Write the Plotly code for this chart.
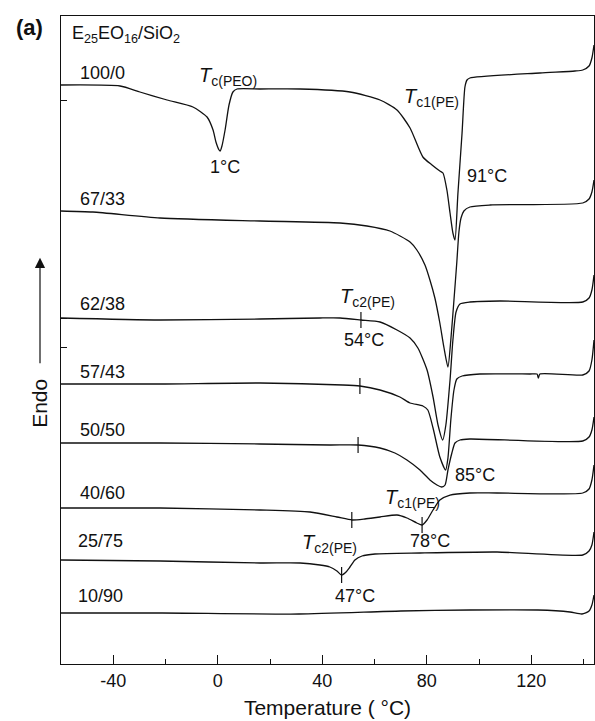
import numpy as np
import plotly.graph_objects as go

# ---------------- data (temperature in °C, heat flow in arbitrary units, endo up) ----------------
samples = ["100/0", "67/33", "62/38", "57/43", "50/50", "40/60", "25/75", "10/90"]

T_100_0 = [-60, -37.4, -29.8, -19.4, -9.5, -4.1, -1.8, -0.7, 0.5, 0.9, 1.6, 2.8, 4.3, 5.8, 7.4, 16.2, 31.5,
           50.6, 62.1, 68.6, 73.6, 78.5, 82.0, 85.0, 86.2, 87.7, 88.9, 90.0, 90.8, 91.9, 93.5, 94.6, 95.4,
           96.5, 123.3, 136.7, 139.7, 142.1, 143.2, 144.0]
H_100_0 = [579, 578, 572, 564, 557, 547, 534, 522, 514, 513, 518, 534, 559, 572, 575, 575, 575,
           572, 564, 554, 536, 507, 499, 493, 491, 474, 451, 431, 424, 470, 531, 577, 584,
           586, 591, 593, 594, 598, 606, 619]

T_67_33 = [-60, -47.8, -22.1, 16.2, 46.8, 57.1, 65.9, 73.6, 76.2, 79.3, 81.2, 83.1, 85.0, 86.6, 88.1,
           89.2, 90.4, 91.5, 92.3, 93.1, 94.2, 96.5, 104.2, 139.7, 142.1, 143.2, 144.0]
H_67_33 = [453, 452, 446, 443, 441, 438, 433, 422, 414, 399, 384, 366, 341, 316, 297,
           324, 364, 402, 432, 446, 453, 457, 459, 461, 465, 472, 484]

T_62_38 = [-60, -22.1, 16.2, 39.1, 46.8, 54.8, 62.1, 68.6, 73.6, 76.6, 80.1, 82.4, 84.3, 86.1,
           87.3, 88.9, 90.0, 91.2, 92.7, 96.5, 108.0, 139.7, 142.1, 143.2, 144.0]
H_62_38 = [346, 344, 345, 346, 346, 344, 342, 334, 326, 316, 294, 267, 239, 224,
           239, 284, 324, 352, 360, 362, 363, 362, 366, 374, 389]

T_57_43 = [-60, -22.1, 16.2, 47.9, 54.4, 62.1, 69.7, 73.6, 78.5, 80.4, 82.4, 85.0, 87.2,
           88.1, 89.2, 90.4, 91.5, 93.5, 100.3, 119.5, 122.2, 122.7, 123.3, 139.7, 142.1, 143.2, 144.0]
H_57_43 = [280, 280, 281, 279, 278, 274, 267, 261, 258, 254, 236, 207, 194,
           206, 244, 274, 285, 288, 290, 290, 290, 286, 290, 289, 293, 304, 324]

T_50_50 = [-60, -22.1, 16.2, 42.9, 53.7, 62.1, 67.8, 72.4, 77.4, 81.2, 83.9, 85.7, 87.0, 88.1,
           89.6, 90.8, 92.7, 96.5, 139.7, 142.1, 143.2, 144.0]
H_50_50 = [221, 221, 220, 219, 219, 216, 211, 204, 194, 184, 179, 177, 179, 194,
           211, 221, 224, 225, 223, 227, 234, 247]

T_40_60 = [-60, -22.1, 16.2, 35.3, 45.6, 51.4, 56.3, 62.1, 68.6, 72.4, 76.2, 78.2, 80.1, 82.4,
           85.0, 88.9, 96.5, 106.9, 139.7, 142.1, 143.2, 144.0]
H_40_60 = [156, 156, 154, 152, 147, 144, 145, 147, 149, 146, 141, 139, 144, 154,
           164, 169, 171, 171, 171, 175, 184, 199]

T_25_75 = [-60, -22.1, 16.2, 31.5, 39.1, 42.9, 45.6, 47.4, 49.1, 50.6, 52.5, 55.2, 60.2, 77.4,
           106.9, 139.7, 142.1, 143.2, 144.0]
H_25_75 = [104, 103, 101, 101, 99, 97, 93, 89, 92, 97, 104, 108, 110, 111,
           112, 109, 113, 119, 132]

T_10_90 = [-60, -21.3, 31.1, 70.1, 96.5, 122.5, 134.8, 139.4, 142.1, 143.2, 144.0]
H_10_90 = [51, 51, 50, 53, 54, 54, 52, 50, 53, 59, 69]

curves_T = [T_100_0, T_67_33, T_62_38, T_57_43, T_50_50, T_40_60, T_25_75, T_10_90]
curves_H = [H_100_0, H_67_33, H_62_38, H_57_43, H_50_50, H_40_60, H_25_75, H_10_90]

# transition marks: (curve index, temperature °C)
mark_curve = [2, 3, 4, 5, 5, 6]
mark_T = [54.8, 54.4, 53.7, 51.3, 78.2, 47.4]

x_ticks = [-40, 0, 40, 80, 120]
x_ticktext = ["-40", "0", "40", "80", "120"]
x_minor = [-20, 20, 60, 100, 140]
y_marks = [564, 346, 317]

FONT = "Liberation Sans, Arial, sans-serif"
INK = "#111111"

fig = go.Figure()
for name, t, h in zip(samples, curves_T, curves_H):
    fig.add_trace(go.Scatter(x=t, y=h, mode="lines", name=name,
                             line=dict(color=INK, width=1.3, shape="spline", smoothing=0.6),
                             showlegend=False, hoverinfo="skip"))

# short vertical marks on the curves
mx, my = [], []
for ci, tm in zip(mark_curve, mark_T):
    hv = float(np.interp(tm, curves_T[ci], curves_H[ci]))
    mx += [tm, tm, None]
    my += [hv - 8, hv + 8, None]
fig.add_trace(go.Scatter(x=mx, y=my, mode="lines", line=dict(color=INK, width=1.2),
                         showlegend=False, hoverinfo="skip"))

ann = []
def label(text, x, y, size=18, xanchor="left", **kw):
    ann.append(dict(text=text, x=x, y=y, xref="x", yref="y", showarrow=False,
                    xanchor=xanchor, yanchor="middle", font=dict(family=FONT, size=size, color=INK), **kw))

# sample labels
label("100/0", -53.5, 591)
label("67/33", -53.5, 465)
label("62/38", -53.5, 360)
label("57/43", -53.5, 292)
label("50/50", -53.5, 234)
label("40/60", -53.5, 171)
label("25/75", -54.3, 123)
label("10/90", -54.3, 68)
label("E<sub>25</sub>EO<sub>16</sub>/SiO<sub>2</sub>", -56.6, 630)

# transition labels
label("<i>T</i><sub>c(PEO)</sub>", -8.0, 588, size=20)
label("1°C", 2.8, 497, xanchor="center")
label("<i>T</i><sub>c1(PE)</sub>", 70.5, 567, size=20)
label("91°C", 103.0, 488, xanchor="center")
label("<i>T</i><sub>c2(PE)</sub>", 46.0, 367, size=20)
label("54°C", 56.0, 324, xanchor="center")
label("85°C", 98.4, 189, xanchor="center")
label("<i>T</i><sub>c1(PE)</sub>", 63.2, 166, size=20)
label("78°C", 81.2, 123, xanchor="center")
label("<i>T</i><sub>c2(PE)</sub>", 31.5, 121, size=20)
label("47°C", 52.5, 68, xanchor="center")

# panel letter
ann.append(dict(text="<b>(a)</b>", x=-0.059, y=0.983, xref="paper", yref="paper", showarrow=False,
                xanchor="center", yanchor="middle", font=dict(family=FONT, size=22, color=INK)))
# Endo label + arrow
ann.append(dict(text="Endo", x=-0.0394, y=0.403, xref="paper", yref="paper", showarrow=False,
                textangle=-90, xanchor="center", yanchor="middle",
                font=dict(family=FONT, size=21, color=INK)))
ann.append(dict(text="", x=-0.0394, y=0.627, xref="paper", yref="paper",
                ax=0, ay=107, axref="pixel", ayref="pixel",
                showarrow=True, arrowhead=2, arrowsize=1.7, arrowwidth=1.2, arrowcolor=INK))

fig.update_layout(
    width=595, height=721,
    margin=dict(l=61, r=1, t=16, b=57),
    paper_bgcolor="white", plot_bgcolor="white",
    annotations=ann,
    font=dict(family=FONT, color=INK),
    xaxis=dict(range=[-60, 144], tickvals=x_ticks, ticktext=x_ticktext, ticks="inside", ticklen=9,
               tickwidth=1.2, tickcolor=INK,
               minor=dict(tickvals=x_minor, ticks="inside", ticklen=5, tickwidth=1.2, tickcolor=INK),
               showline=True, mirror=True, linecolor=INK, linewidth=1.3, showgrid=False, zeroline=False,
               tickfont=dict(family=FONT, size=18, color=INK),
               title=dict(text="Temperature ( °C)", font=dict(family=FONT, size=21, color=INK), standoff=10)),
    yaxis=dict(range=[0, 648], tickvals=y_marks, ticks="inside", ticklen=6, tickwidth=1.2, tickcolor=INK,
               showticklabels=False, showline=True, mirror=True, linecolor=INK, linewidth=1.3,
               showgrid=False, zeroline=False),
)

fig.write_html("out.html")
